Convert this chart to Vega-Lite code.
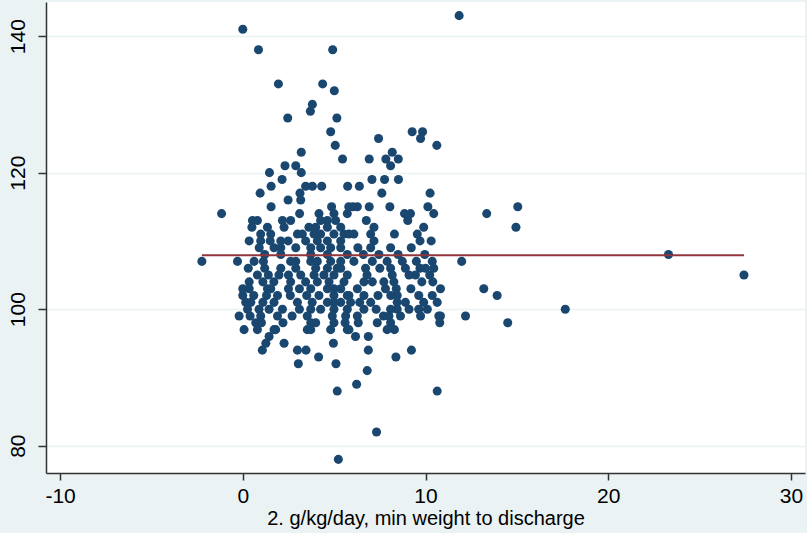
{
  "$schema": "https://vega.github.io/schema/vega-lite/v6.json",
  "width": 759,
  "height": 471,
  "autosize": {"type": "none"},
  "padding": {"left": 46, "top": 2, "right": 2, "bottom": 60},
  "background": "#eaf2f3",
  "view": {"fill": "white", "stroke": null},
  "config": {"font": "Liberation Sans"},
  "datasets": {
    "pts": [
      {"x":11.84,"y":143},{"x":0,"y":141},{"x":0.86,"y":138},{"x":4.92,"y":138},
      {"x":1.95,"y":133},{"x":4.37,"y":133},{"x":5.01,"y":132},{"x":3.81,"y":130},{"x":3.7,"y":129},
      {"x":2.46,"y":128},{"x":5.15,"y":128},{"x":4.81,"y":126},{"x":9.27,"y":126},{"x":9.84,"y":126},
      {"x":7.43,"y":125},{"x":9.73,"y":125},{"x":5.06,"y":124},{"x":10.62,"y":124},
      {"x":3.2,"y":123},{"x":8.18,"y":123},
      {"x":5.46,"y":122},{"x":6.92,"y":122},{"x":7.83,"y":122},{"x":8.51,"y":122},
      {"x":2.31,"y":121},{"x":2.9,"y":121},{"x":8.09,"y":121},
      {"x":1.46,"y":120},{"x":3.2,"y":120},
      {"x":2.15,"y":119},{"x":7.07,"y":119},{"x":7.76,"y":119},{"x":8.52,"y":119},
      {"x":1.55,"y":118},{"x":3.44,"y":118},{"x":3.81,"y":118},{"x":4.32,"y":118},{"x":5.74,"y":118},{"x":6.38,"y":118},
      {"x":0.95,"y":117},{"x":3.13,"y":117},{"x":7.61,"y":117},{"x":10.25,"y":117},
      {"x":2.48,"y":116},{"x":3.17,"y":116},
      {"x":1.55,"y":115},{"x":4.86,"y":115},{"x":5.8,"y":115},{"x":6.03,"y":115},{"x":6.27,"y":115},{"x":6.92,"y":115},{"x":8.05,"y":115},{"x":10.13,"y":115},{"x":15.05,"y":115},
      {"x":-1.16,"y":114},{"x":3.11,"y":114},{"x":4.17,"y":114},{"x":4.99,"y":114},{"x":5.72,"y":114},{"x":8.85,"y":114},{"x":9.18,"y":114},{"x":10.45,"y":114},{"x":13.35,"y":114},
      {"x":0.53,"y":113},{"x":0.8,"y":113},{"x":2.17,"y":113},{"x":2.62,"y":113},{"x":4.26,"y":113},{"x":4.63,"y":113},{"x":5.08,"y":113},{"x":6.76,"y":113},{"x":9.03,"y":113},
      {"x":1.35,"y":112},{"x":2.26,"y":112},{"x":3.62,"y":112},{"x":3.99,"y":112},{"x":4.63,"y":112},{"x":5.36,"y":112},{"x":7.18,"y":112},{"x":14.95,"y":112},{"x":0.5,"y":112},{"x":9.9,"y":112},
      {"x":0.98,"y":111},{"x":1.53,"y":111},{"x":2.99,"y":111},{"x":3.26,"y":111},{"x":3.9,"y":111},{"x":4.26,"y":111},{"x":4.99,"y":111},{"x":5.54,"y":111},{"x":5.81,"y":111},{"x":6.08,"y":111},{"x":7.0,"y":111},{"x":9.55,"y":111},{"x":8.3,"y":111},
      {"x":0.35,"y":110},{"x":0.98,"y":110},{"x":2.08,"y":110},{"x":2.48,"y":110},{"x":3.44,"y":110},{"x":4.08,"y":110},{"x":4.63,"y":110},{"x":5.36,"y":110},{"x":7.18,"y":110},{"x":10.31,"y":110},{"x":1.5,"y":110},{"x":9.7,"y":110},
      {"x":1.71,"y":109},{"x":2.08,"y":109},{"x":3.72,"y":109},{"x":4.26,"y":109},{"x":4.81,"y":109},{"x":5.36,"y":109},{"x":7.0,"y":109},{"x":8.09,"y":109},{"x":9.22,"y":109},{"x":0.9,"y":109},{"x":2.9,"y":109},{"x":6.3,"y":109},
      {"x":2.08,"y":108},{"x":3.72,"y":108},{"x":4.63,"y":108},{"x":5.72,"y":108},{"x":7.45,"y":108},{"x":9.96,"y":108},{"x":23.3,"y":108},{"x":1.2,"y":108},{"x":6.6,"y":108},{"x":8.5,"y":108},
      {"x":-2.24,"y":107},{"x":-0.29,"y":107},{"x":0.62,"y":107},{"x":1.13,"y":107},{"x":2.62,"y":107},{"x":2.9,"y":107},{"x":3.72,"y":107},{"x":4.08,"y":107},{"x":4.81,"y":107},{"x":5.36,"y":107},{"x":6.08,"y":107},{"x":7.09,"y":107},{"x":7.9,"y":107},{"x":8.73,"y":107},{"x":10.37,"y":107},{"x":11.98,"y":107},{"x":9.5,"y":107},
      {"x":2.08,"y":106},{"x":3.99,"y":106},{"x":4.63,"y":106},{"x":5.17,"y":106},{"x":5.36,"y":106},{"x":6.72,"y":106},{"x":8.09,"y":106},{"x":8.9,"y":106},{"x":10.0,"y":106},{"x":10.45,"y":106},{"x":0.3,"y":106},{"x":1.2,"y":106},{"x":2.9,"y":106},{"x":7.5,"y":106},{"x":9.7,"y":106},
      {"x":0.8,"y":105},{"x":1.98,"y":105},{"x":3.17,"y":105},{"x":3.9,"y":105},{"x":4.44,"y":105},{"x":4.99,"y":105},{"x":5.72,"y":105},{"x":8.18,"y":105},{"x":9.45,"y":105},{"x":10.23,"y":105},{"x":27.43,"y":105},{"x":1.4,"y":105},{"x":2.5,"y":105},{"x":6.8,"y":105},{"x":9.1,"y":105},
      {"x":0.35,"y":104},{"x":2.62,"y":104},{"x":3.44,"y":104},{"x":4.08,"y":104},{"x":4.72,"y":104},{"x":5.54,"y":104},{"x":6.63,"y":104},{"x":7.09,"y":104},{"x":7.72,"y":104},{"x":8.27,"y":104},{"x":1.1,"y":104},{"x":1.7,"y":104},{"x":9.8,"y":104},{"x":10.4,"y":104},
      {"x":0.35,"y":103},{"x":1.35,"y":103},{"x":1.53,"y":103},{"x":3.72,"y":103},{"x":4.63,"y":103},{"x":4.99,"y":103},{"x":5.36,"y":103},{"x":6.27,"y":103},{"x":7.81,"y":103},{"x":10.82,"y":103},{"x":13.19,"y":103},{"x":0.0,"y":103},{"x":2.5,"y":103},{"x":3.1,"y":103},{"x":8.4,"y":103},{"x":9.2,"y":103},
      {"x":0,"y":102},{"x":1.9,"y":102},{"x":4.17,"y":102},{"x":4.99,"y":102},{"x":5.72,"y":102},{"x":5.81,"y":102},{"x":6.63,"y":102},{"x":8.45,"y":102},{"x":9.63,"y":102},{"x":10.37,"y":102},{"x":13.92,"y":102},{"x":0.6,"y":102},{"x":1.3,"y":102},{"x":2.6,"y":102},{"x":3.5,"y":102},{"x":7.4,"y":102},{"x":8.1,"y":102},
      {"x":0.16,"y":101},{"x":0.44,"y":101},{"x":1.71,"y":101},{"x":2.99,"y":101},{"x":4.63,"y":101},{"x":4.99,"y":101},{"x":5.36,"y":101},{"x":5.9,"y":101},{"x":7.0,"y":101},{"x":8.45,"y":101},{"x":10.64,"y":101},{"x":1.1,"y":101},{"x":3.8,"y":101},{"x":6.4,"y":101},{"x":8.9,"y":101},{"x":9.9,"y":101},
      {"x":0.26,"y":100},{"x":0.89,"y":100},{"x":1.44,"y":100},{"x":2.17,"y":100},{"x":3.72,"y":100},{"x":4.26,"y":100},{"x":4.99,"y":100},{"x":5.72,"y":100},{"x":6.63,"y":100},{"x":8.09,"y":100},{"x":8.45,"y":100},{"x":9.63,"y":100},{"x":17.65,"y":100},{"x":3.1,"y":100},{"x":7.3,"y":100},{"x":9.1,"y":100},{"x":10.1,"y":100},
      {"x":-0.2,"y":99},{"x":0.98,"y":99},{"x":1.9,"y":99},{"x":3.53,"y":99},{"x":4.9,"y":99},{"x":5.63,"y":99},{"x":6.27,"y":99},{"x":8.63,"y":99},{"x":9.73,"y":99},{"x":10.73,"y":99},{"x":10.82,"y":99},{"x":12.19,"y":99},{"x":0.4,"y":99},{"x":2.7,"y":99},{"x":7.7,"y":99},{"x":8.0,"y":99},
      {"x":0.71,"y":98},{"x":1.02,"y":98},{"x":3.72,"y":98},{"x":3.99,"y":98},{"x":4.99,"y":98},{"x":6.32,"y":98},{"x":7.36,"y":98},{"x":8.09,"y":98},{"x":10.78,"y":98},{"x":14.5,"y":98},{"x":2.2,"y":98},{"x":5.6,"y":98},
      {"x":0.07,"y":97},{"x":0.8,"y":97},{"x":1.71,"y":97},{"x":1.8,"y":97},{"x":3.53,"y":97},{"x":3.72,"y":97},{"x":4.81,"y":97},{"x":5.72,"y":97},{"x":5.81,"y":97},{"x":7.9,"y":97},{"x":8.3,"y":97},
      {"x":1.44,"y":96},{"x":6.17,"y":96},{"x":6.87,"y":96},
      {"x":1.26,"y":95},{"x":2.26,"y":95},{"x":4.96,"y":95},
      {"x":1.07,"y":94},{"x":2.99,"y":94},{"x":3.46,"y":94},{"x":6.87,"y":94},{"x":9.23,"y":94},
      {"x":4.15,"y":93},{"x":8.38,"y":93},
      {"x":3.04,"y":92},{"x":5.1,"y":92},
      {"x":6.81,"y":91},{"x":6.23,"y":89},
      {"x":5.17,"y":88},{"x":10.64,"y":88},
      {"x":7.32,"y":82},{"x":5.23,"y":78}
    ],
    "fit": [
      {"x": -2.24, "y": 107.9},
      {"x": 27.43, "y": 107.9}
    ]
  },
  "layer": [
    {
      "data": {"name": "pts"},
      "mark": {"type": "circle", "size": 82, "opacity": 1, "color": "#1a476f"},
      "encoding": {
        "x": {
          "field": "x", "type": "quantitative",
          "scale": {"domain": [-10.77, 30.77], "nice": false, "zero": false},
          "axis": {
            "values": [-10, 0, 10, 20, 30],
            "labelExpr": "replace(datum.label, '−', '-')",
            "title": "2. g/kg/day, min weight to discharge",
            "grid": false,
            "domainColor": "#333", "domainWidth": 1.5,
            "tickColor": "#333", "tickWidth": 1.5, "tickSize": 7,
            "labelFontSize": 21, "labelColor": "#000", "labelPadding": 5,
            "titleFontSize": 20, "titleFontWeight": "normal", "titleColor": "#000", "titlePadding": 2
          }
        },
        "y": {
          "field": "y", "type": "quantitative",
          "scale": {"domain": [76, 145], "nice": false, "zero": false},
          "axis": {
            "values": [80, 100, 120, 140],
            "title": null,
            "grid": true, "gridColor": "#eaf2f3", "gridWidth": 1.5,
            "domainColor": "#333", "domainWidth": 1.5,
            "tickColor": "#333", "tickWidth": 1.5, "tickSize": 8,
            "labelFontSize": 21, "labelColor": "#000",
            "labelAngle": -90, "labelAlign": "center", "labelBaseline": "bottom", "labelPadding": 10
          }
        }
      }
    },
    {
      "data": {"name": "fit"},
      "mark": {"type": "line", "color": "#90353b", "strokeWidth": 2},
      "encoding": {
        "x": {"field": "x", "type": "quantitative"},
        "y": {"field": "y", "type": "quantitative"}
      }
    }
  ]
}
